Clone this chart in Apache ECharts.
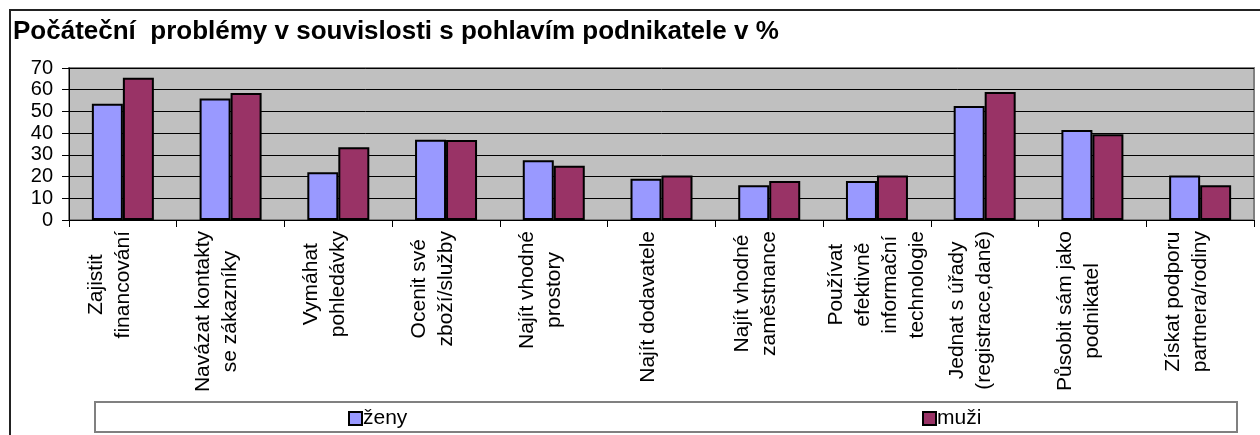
<!DOCTYPE html>
<html>
<head>
<meta charset="utf-8">
<script src="https://cdn.jsdelivr.net/npm/echarts@6/dist/echarts.min.js"></script>
<style>
html,body{margin:0;padding:0;background:#fff;}
#chart{width:1260px;height:435px;}
</style>
</head>
<body>
<div id="chart"></div>
<script>
var titleText = 'Počáteční  problémy v souvislosti s pohlavím podnikatele v %';
var categories = [
  'Zajistit\nfinancování',
  'Navázat kontakty\nse zákazníky',
  'Vymáhat\npohledávky',
  'Ocenit své\nzboží/služby',
  'Najít vhodné\nprostory',
  'Najít dodavatele',
  'Najít vhodné\nzaměstnance',
  'Používat\nefektivně\ninformační\ntechnologie',
  'Jednat s úřady\n(registrace,daně)',
  'Působit sám jako\npodnikatel',
  'Získat podporu\npartnera/rodiny'
];
var seriesNames = ['ženy', 'muži'];
var zeny = [53.5, 56, 22, 37, 27.5, 19, 16, 18, 52.5, 41.5, 20.5];
var muzi = [65.5, 58.5, 33.5, 36.8, 25, 20.5, 18, 20.5, 59, 39.5, 16];
var yTicks = [0, 10, 20, 30, 40, 50, 60, 70];

var FONT = 'Arial, "Liberation Sans", sans-serif';
var chart = echarts.init(document.getElementById('chart'), null, {renderer: 'canvas'});

function catLabel(v) {
  var lines = v.split('\n');
  if (lines.length < 4) lines.push(' ');
  return lines.map(function (l) { return '{c|' + l + '}'; }).join('\n');
}

var option = {
  backgroundColor: '#ffffff',
  animation: false,
  title: {
    text: titleText,
    left: 13,
    top: 19,
    padding: 0,
    textStyle: {fontFamily: FONT, fontSize: 26, fontWeight: 'bold', color: '#000'}
  },
  graphic: [
    {type: 'rect', silent: true, z: -1,
     shape: {x: 10, y: 10, width: 1400, height: 600},
     style: {fill: null, stroke: '#222', lineWidth: 2}},
    {type: 'rect', silent: true, z: -1,
     shape: {x: 95, y: 402, width: 1142, height: 30},
     style: {fill: '#fff', stroke: '#808080', lineWidth: 2}}
  ],
  legend: [
    {data: [seriesNames[0]], left: 348, top: 408, padding: 0,
     icon: 'rect', itemWidth: 13, itemHeight: 13,
     itemStyle: {borderColor: '#000', borderWidth: 2},
     textStyle: {fontFamily: FONT, fontSize: 21, color: '#000', padding: [0,0,0,-4]}},
    {data: [seriesNames[1]], left: 922, top: 408, padding: 0,
     icon: 'rect', itemWidth: 13, itemHeight: 13,
     itemStyle: {borderColor: '#000', borderWidth: 2},
     textStyle: {fontFamily: FONT, fontSize: 21, color: '#000', padding: [0,0,0,-4]}}
  ],
  grid: {
    left: 69, top: 68, right: 6, bottom: 215,
    show: true, backgroundColor: '#C0C0C0', borderColor: '#808080', borderWidth: 2
  },
  xAxis: {
    type: 'category',
    data: categories,
    axisLine: {lineStyle: {color: '#000', width: 1}},
    axisTick: {show: true, length: 7, lineStyle: {color: '#000'}},
    axisLabel: {
      interval: 0, rotate: 90, margin: 11,
      color: '#000', fontFamily: FONT, fontSize: 21,
      formatter: catLabel,
      rich: {c: {align: 'center', fontFamily: FONT, fontSize: 21, lineHeight: 27, color: '#000'}}
    },
    splitLine: {show: false}
  },
  yAxis: {
    type: 'value',
    min: yTicks[0], max: yTicks[yTicks.length - 1], interval: 10,
    axisLine: {show: true, lineStyle: {color: '#000', width: 1}},
    axisTick: {show: true, length: 7, lineStyle: {color: '#000'}},
    axisLabel: {margin: 16, color: '#000', fontFamily: FONT, fontSize: 20},
    splitLine: {show: true, lineStyle: {color: '#000', width: 1}}
  },
  series: [
    {name: seriesNames[0], type: 'bar', data: zeny, barWidth: 31, barGap: '0%',
     itemStyle: {color: '#9999FF', borderColor: '#000', borderWidth: 2}},
    {name: seriesNames[1], type: 'bar', data: muzi, barWidth: 31, barGap: '0%',
     itemStyle: {color: '#993366', borderColor: '#000', borderWidth: 2}}
  ]
};
chart.setOption(option);
</script>
</body>
</html>
